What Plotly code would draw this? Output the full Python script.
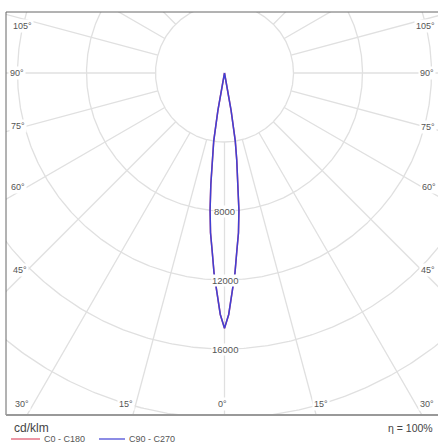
import numpy as np
import plotly.graph_objects as go

# luminous intensity (cd/klm) vs. gamma angle, one half of the symmetric beam
gamma = [0, 1, 2, 3, 4, 5, 6, 7, 8, 9, 10, 11]
intensity = [14800, 14000, 12700, 11600, 10300, 9300, 8000, 6500, 5100, 4000, 2200, 0]

ring_values = [4000, 8000, 12000, 16000, 20000]
ring_labels = ["8000", "12000", "16000"]
spoke_angles = list(range(0, 360, 15))

angle_labels = ["105°", "90°", "75°", "60°", "45°", "30°", "15°", "0°", "15°", "30°",
                "45°", "60°", "75°", "90°", "105°"]
# label centres in pixels (x, y)
angle_label_px = [(22, 26), (17, 73), (18, 126), (18, 187), (20, 270), (22, 404),
                  (126, 404), (223, 404), (321, 404), (427, 404),
                  (428, 270), (429, 187), (428, 127), (427, 73), (425, 26)]

W, H = 438, 444
L, R, T, B = 6, 438, 12, 415
CX, CY = 224.5, 73
K = 4000 / 69.0  # cd/klm per pixel

GRID = "#e0e0e0"
TXT = "#555555"
FONT = "Liberation Sans, Arial, sans-serif"


def to_xy(angle_deg, r):
    a = np.radians(np.asarray(angle_deg, dtype=float))
    r = np.asarray(r, dtype=float)
    return r * np.sin(a), -r * np.cos(a)


def px_paper(px, py):
    return (px - L) / (R - L), (B - py) / (B - T)


fig = go.Figure()

# grid circles
t = np.linspace(0, 360, 721)
for rv in ring_values:
    x, y = to_xy(t, np.full_like(t, rv))
    fig.add_trace(go.Scatter(x=x, y=y, mode="lines", line=dict(color=GRID, width=1.3),
                             hoverinfo="skip", showlegend=False))

# spokes from the first ring outwards
for a in spoke_angles:
    x, y = to_xy([a, a], [ring_values[0], 40000])
    fig.add_trace(go.Scatter(x=x, y=y, mode="lines", line=dict(color=GRID, width=1.3),
                             hoverinfo="skip", showlegend=False))

# full closed curve (mirror the half)
ang = [-g for g in gamma[::-1]] + gamma[1:]
val = intensity[::-1] + intensity[1:]
cx, cy = to_xy(ang, val)
fig.add_trace(go.Scatter(x=cx, y=cy, mode="lines", name="C0 - C180",
                         line=dict(color="#e0506a", width=1.5), showlegend=False))
fig.add_trace(go.Scatter(x=cx, y=cy, mode="lines", name="C90 - C270",
                         line=dict(color="#4040d4", width=1.5), showlegend=False))

annotations = []
for rv, lab in zip(ring_values[1:4], ring_labels):
    annotations.append(dict(x=0, y=-rv, text=lab, showarrow=False, xref="x", yref="y",
                            xanchor="center", yanchor="middle",
                            font=dict(family=FONT, size=9.5, color=TXT),
                            bgcolor="white", borderpad=0))
for lab, (px, py) in zip(angle_labels, angle_label_px):
    xp, yp = px_paper(px, py)
    annotations.append(dict(x=xp, y=yp, text=lab, showarrow=False, xref="paper", yref="paper",
                            xanchor="center", yanchor="middle",
                            font=dict(family=FONT, size=9, color=TXT),
                            bgcolor="white", borderpad=1))

# bottom caption and legend
xp, yp = px_paper(12, 428)
annotations.append(dict(x=xp, y=yp, text="cd/klm", showarrow=False, xref="paper", yref="paper",
                        xanchor="left", yanchor="middle",
                        font=dict(family=FONT, size=12, color="#444")))
xp, yp = px_paper(435, 428)
annotations.append(dict(x=xp, y=yp, text="η = 100%", showarrow=False, xref="paper", yref="paper",
                        xanchor="right", yanchor="middle",
                        font=dict(family=FONT, size=10.5, color="#444")))
xp, yp = px_paper(42, 439)
annotations.append(dict(x=xp, y=yp, text="C0 - C180", showarrow=False, xref="paper", yref="paper",
                        xanchor="left", yanchor="middle",
                        font=dict(family=FONT, size=9, color="#555")))
xp, yp = px_paper(127, 439)
annotations.append(dict(x=xp, y=yp, text="C90 - C270", showarrow=False, xref="paper", yref="paper",
                        xanchor="left", yanchor="middle",
                        font=dict(family=FONT, size=9, color="#555")))

shapes = [
    dict(type="line", xref="paper", yref="paper", x0=0, x1=1.01, y0=1, y1=1,
         line=dict(color="#666", width=1)),
    dict(type="line", xref="paper", yref="paper", x0=0, x1=0, y0=0, y1=1,
         line=dict(color="#666", width=1)),
    dict(type="line", xref="paper", yref="paper", x0=0, x1=1.01, y0=0, y1=0,
         line=dict(color="#999", width=2)),
]
for (x0, x1, col) in [(11, 40, "#e0506a"), (99, 125, "#4040d4")]:
    a0, yy = px_paper(x0, 439)
    a1, _ = px_paper(x1, 439)
    shapes.append(dict(type="line", xref="paper", yref="paper", x0=a0, x1=a1, y0=yy, y1=yy,
                       line=dict(color=col, width=1.2)))

fig.update_layout(
    width=W, height=H,
    margin=dict(l=L, r=W - R, t=T, b=H - B),
    paper_bgcolor="white", plot_bgcolor="white",
    xaxis=dict(range=[(L - CX) * K, (R - CX) * K], visible=False, fixedrange=True),
    yaxis=dict(range=[-(B - CY) * K, (CY - T) * K], visible=False, fixedrange=True),
    annotations=annotations, shapes=shapes,
    showlegend=False,
)

# page body has a default 8px margin; remove it so the figure sits at the window origin
fig.write_html("out.html", config={"displayModeBar": False},
               post_script="document.body.style.margin='0';")
